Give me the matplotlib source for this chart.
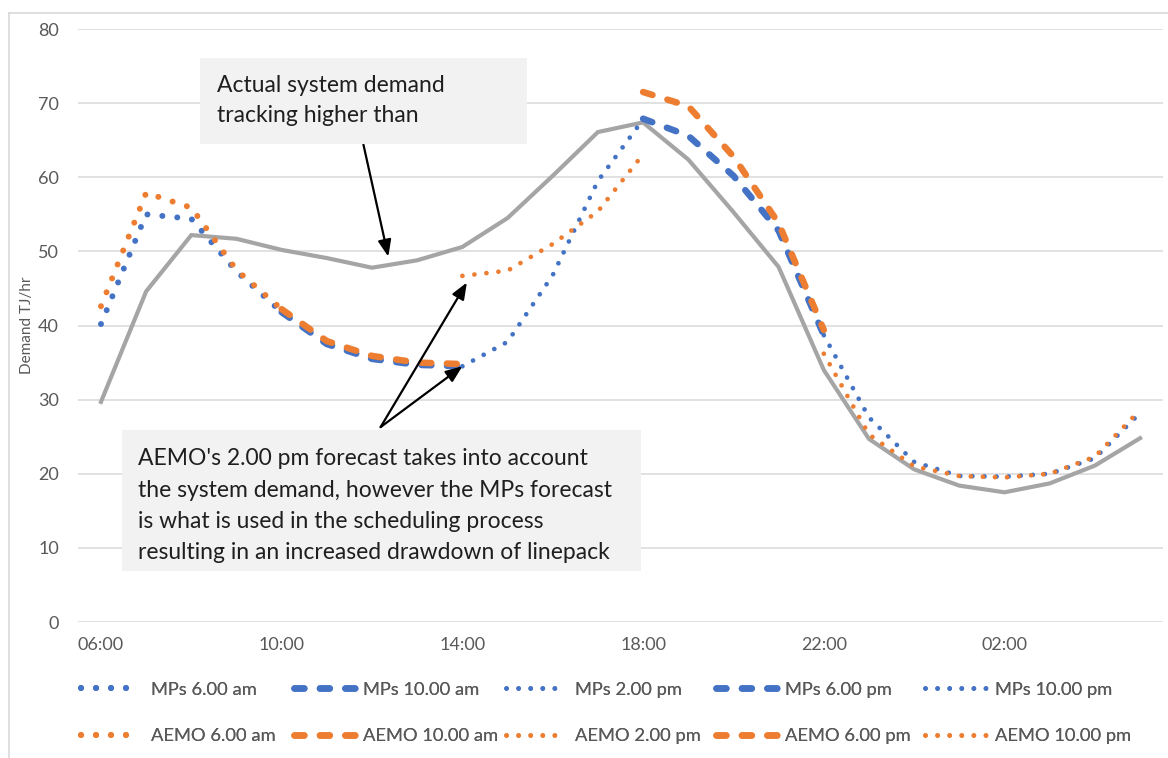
import matplotlib
matplotlib.use("Agg")
import numpy as np
import matplotlib.pyplot as plt
from matplotlib.lines import Line2D
from matplotlib.patches import Rectangle

plt.rcParams['font.family'] = ['Lato', 'DejaVu Sans']

hours = ["06:00", "07:00", "08:00", "09:00", "10:00", "11:00", "12:00", "13:00",
         "14:00", "15:00", "16:00", "17:00", "18:00", "19:00", "20:00", "21:00",
         "22:00", "23:00", "00:00", "01:00", "02:00", "03:00", "04:00", "05:00"]

actual = [29.7, 44.6, 52.2, 51.7, 50.2, 49.1, 47.8, 48.8, 50.6, 54.5, 60.2, 66.1,
          67.4, 62.4, 55.3, 47.9, 34.0, 24.7, 20.6, 18.4, 17.5, 18.7, 21.1, 24.8]

# each forecast only covers its own block of hours (start index, values)
mps_6am = (0, [40.2, 55.0, 54.4, 47.3, 41.8])
mps_10am = (4, [41.8, 37.5, 35.5, 34.7, 34.5])
mps_2pm = (8, [34.5, 37.8, 46.8, 59.5, 67.8])
mps_6pm = (12, [67.9, 65.6, 60.2, 52.8, 38.7])
mps_10pm = (16, [38.7, 27.6, 21.6, 19.7, 19.6, 20.0, 22.1, 28.2])

aemo_6am = (0, [42.6, 57.9, 55.9, 47.5, 42.2])
aemo_10am = (4, [42.2, 37.9, 35.9, 35.0, 34.8])
aemo_2pm = (8, [46.7, 47.4, 51.0, 55.4, 63.1])
aemo_6pm = (12, [71.5, 69.6, 62.8, 53.8, 39.4])
aemo_10pm = (16, [36.2, 25.3, 21.0, 19.7, 19.5, 20.0, 22.3, 28.6])

BLUE = "#4472C4"
ORANGE = "#ED7D31"
GREY = "#A5A5A5"
TXT = "#595959"

big_dot = dict(lw=4.3, ls=(0, (0.01, 2.5)), dash_capstyle="round")
small_dot = dict(lw=3.4, ls=(0, (0.01, 2.55)), dash_capstyle="round")
dash = dict(lw=4.7, ls=(0, (1.5, 2.4)), dash_capstyle="round")

series = [
    ("MPs 6.00 am", mps_6am, BLUE, big_dot),
    ("MPs 10.00 am", mps_10am, BLUE, dash),
    ("MPs 2.00 pm", mps_2pm, BLUE, small_dot),
    ("MPs 6.00 pm", mps_6pm, BLUE, dash),
    ("MPs 10.00 pm", mps_10pm, BLUE, small_dot),
    ("AEMO 6.00 am", aemo_6am, ORANGE, big_dot),
    ("AEMO 10.00 am", aemo_10am, ORANGE, dash),
    ("AEMO 2.00 pm", aemo_2pm, ORANGE, small_dot),
    ("AEMO 6.00 pm", aemo_6pm, ORANGE, dash),
    ("AEMO 10.00 pm", aemo_10pm, ORANGE, small_dot),
]

fig = plt.figure(figsize=(11.68, 7.58), dpi=100)
ax = fig.add_axes([0.0671, 0.1794, 0.9283, 0.7823])

x = np.arange(len(hours))
ax.plot(x, actual, color=GREY, lw=3, solid_joinstyle="miter", zorder=2)

handles = []
for i, (label, (start, vals), color, style) in enumerate(series):
    xs = np.arange(start, start + len(vals))
    ln, = ax.plot(xs, vals, color=color, label=label, zorder=3 + i, **style)
    handles.append(ln)

ax.set_xlim(-0.5, len(hours) - 0.5)
ax.set_ylim(0, 80)
ax.set_yticks(range(0, 81, 10))
ax.set_xticks(x[::4])
ax.set_xticklabels(hours[::4])
ax.grid(axis="y", color="#D9D9D9", lw=1.1)
ax.set_axisbelow(True)
for s in ax.spines.values():
    s.set_visible(False)
ax.tick_params(length=0, labelsize=13, colors=TXT)
ax.tick_params(axis="y", pad=14)
ax.tick_params(axis="x", pad=11)
ax.set_ylabel("Demand TJ/hr", fontsize=11, color=TXT)
ax.yaxis.set_label_coords(-0.047, 0.5)
ax.yaxis.label.set_va("center")

# chart area border (top and left edges visible)
fig.add_artist(Line2D([9 / 1168, 1], [1 - 13 / 758] * 2, color="#D9D9D9", lw=1.2))
fig.add_artist(Line2D([9 / 1168] * 2, [0, 1 - 13 / 758], color="#D9D9D9", lw=1.2))

# text boxes
def px(xp, yp):
    return xp / 1168, 1 - yp / 758

def box(x0, y0, x1, y1):
    fx0, fy1 = px(x0, y1)
    fig.add_artist(Rectangle((fx0, fy1), (x1 - x0) / 1168, (y1 - y0) / 758,
                             transform=fig.transFigure, facecolor="#F2F2F2",
                             edgecolor="none", zorder=20))

box(200, 58, 527, 144)
for txt, yb in [("Actual system demand", 92), ("tracking higher than", 122)]:
    fig.text(*px(217, yb), txt, fontsize=16.5, color="#1F1F1F", va="baseline", zorder=21)

box(122, 430, 641, 571)
lines2 = ["AEMO's 2.00 pm forecast takes into account",
          "the system demand, however the MPs forecast",
          "is what is used in the scheduling process",
          "resulting in an increased drawdown of linepack"]
for txt, yb in zip(lines2, [465, 497, 528, 559]):
    fig.text(*px(138, yb), txt, fontsize=16.5, color="#1F1F1F", va="baseline", zorder=21)

arrow = dict(arrowstyle="-|>,head_length=1.0,head_width=0.4", color="black", lw=1.6,
             shrinkA=0, shrinkB=0)
ax.annotate("", xy=(6.36, 49.3), xytext=(5.81, 64.4), arrowprops=arrow, zorder=22)
ax.annotate("", xy=(8.1, 45.8), xytext=(6.19, 26.3), arrowprops=arrow, zorder=22)
ax.annotate("", xy=(8.0, 34.5), xytext=(6.19, 26.3), arrowprops=arrow, zorder=22)

# legend: one column per forecast time
col_x = [81, 294, 506, 716, 925]
hlen = [3.05, 3.55, 3.15, 3.5, 3.3]
hpad = [0.75, 0.2, 0.6, 0.25, 0.5]
for c in range(5):
    lg = fig.legend(handles=[handles[c], handles[c + 5]], loc="center left",
                    bbox_to_anchor=(col_x[c] / 1168, 1 - 713 / 758), frameon=False,
                    fontsize=13.2, labelcolor=TXT, borderpad=0, borderaxespad=0,
                    handlelength=hlen[c], handletextpad=hpad[c], labelspacing=1.65)
    fig.add_artist(lg)

fig.savefig("out.png", dpi=100)
